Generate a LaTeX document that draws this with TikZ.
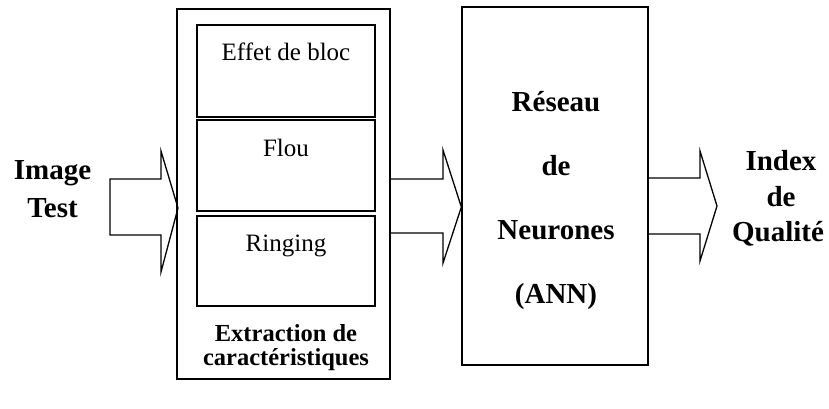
\documentclass[tikz,border=0pt]{standalone}
\usepackage{fontspec}
\setmainfont{Liberation Serif}
\begin{document}
\begin{tikzpicture}[x=1pt,y=-1pt,line width=1.3pt,
  box/.style={draw,rectangle,inner sep=0pt},
  lbl/.style={inner sep=0pt,anchor=base,font=\fontsize{25}{30}\selectfont},
  mlbl/.style={inner sep=0pt,anchor=base,font=\fontsize{24.5}{29}\selectfont\bfseries},
  blbl/.style={inner sep=0pt,anchor=base,font=\fontsize{29}{34}\selectfont\bfseries},
  barrow/.style={draw,line width=1.3pt,line join=miter}]
\useasboundingbox (0,0) rectangle (829,408);
% boxes
\node[box,minimum width=213pt,minimum height=370pt] (ext) at (283.5,194) {};
\node[box,minimum width=178pt,minimum height=92pt] (b1) at (286,71) {};
\node[box,minimum width=178pt,minimum height=91pt] (b2) at (286,165.5) {};
\node[box,minimum width=178pt,minimum height=90pt] (b3) at (286,261) {};
\node[box,minimum width=186pt,minimum height=358pt] (ann) at (555,186) {};
% labels
\node[lbl] (t1) at (286,60) {Effet de bloc};
\node[lbl] (t2) at (286,156) {Flou};
\node[lbl] (t3) at (286,251) {Ringing};
\node[mlbl] (tx1) at (286,341) {Extraction de};
\node[mlbl] (tx2) at (286,365) {caractéristiques};
\node[blbl] (ta1) at (556,111) {Réseau};
\node[blbl] (ta2) at (556,175) {de};
\node[blbl] (ta3) at (556,239) {Neurones};
\node[blbl] (ta4) at (556,303) {(ANN)};
\node[blbl] (ti1) at (52.5,179) {Image};
\node[blbl] (ti2) at (52.5,217) {Test};
\node[blbl] (to1) at (781,170) {Index};
\node[blbl] (to2) at (781,206) {de};
\node[blbl] (to3) at (778,241) {Qualité};
% block arrows
\draw[barrow] (110,179) -- (161,179) -- (161,151) -- (178,208) -- (161,272) -- (161,235) -- (110,235) -- cycle;
\draw[barrow] (ext.east |- 0,179) -- (443,179) -- (443,150) -- (ann.west |- 0,207) -- (443,263) -- (443,233) -- (ext.east |- 0,233);
\draw[barrow] (ann.east |- 0,178) -- (700,178) -- (700,151) -- (717,206) -- (700,261) -- (700,234) -- (ann.east |- 0,234);
\end{tikzpicture}
\end{document}
